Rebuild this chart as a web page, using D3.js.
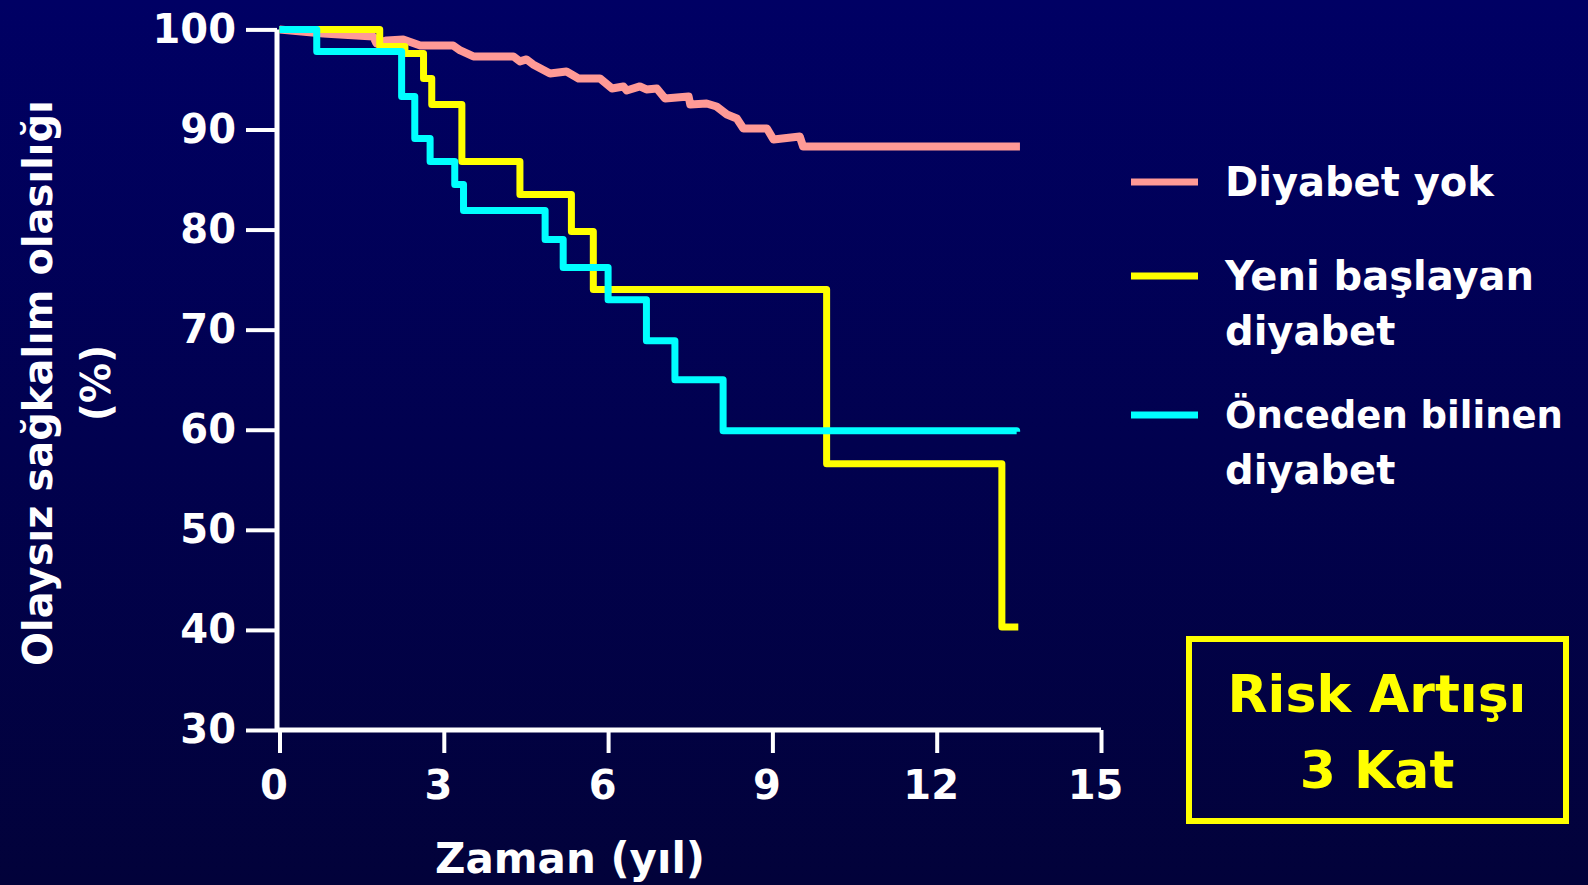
<!DOCTYPE html>
<html>
<head>
<meta charset="utf-8">
<script src="https://cdn.jsdelivr.net/npm/d3@7"></script>
<style>
  body { margin: 0; background: #000050; overflow: hidden; }
  text { font-family: "DejaVu Sans", sans-serif; font-weight: bold; }
</style>
</head>
<body>
<div id="chart"></div>
<script>
var svgWidth = 1588;
var svgHeight = 885;

// series values: [time (years), survival %]
var noDiabetes = [[0, 100], [0.8, 99.6], [1.71, 99.3], [1.77, 98.6], [1.96, 98.9], [2.26, 99.0], [2.57, 98.4],
  [3.17, 98.4], [3.30, 97.9], [3.54, 97.3], [4.27, 97.3], [4.39, 96.8], [4.51, 97.0], [4.63, 96.5],
  [4.94, 95.6], [5.24, 95.8], [5.46, 95.1], [5.85, 95.1], [6.07, 94.1], [6.28, 94.3], [6.34, 93.9],
  [6.58, 94.3], [6.70, 94.0], [6.89, 94.1], [7.04, 93.1], [7.47, 93.3], [7.50, 92.5], [7.80, 92.6],
  [7.98, 92.3], [8.17, 91.5], [8.35, 91.1], [8.47, 90.1], [8.90, 90.1], [9.02, 89.0], [9.50, 89.3],
  [9.56, 88.3], [13.52, 88.3]];
var newDiabetes = [[0, 100], [1.83, 98.3], [2.29, 97.6], [2.63, 95.1], [2.78, 92.5], [3.33, 86.8],
  [4.39, 83.5], [5.33, 79.8], [5.73, 74.0], [9.99, 56.6], [13.19, 40.3], [13.49, 40.3]];
var knownDiabetes = [[0, 100], [0.68, 97.8], [2.23, 93.3], [2.47, 89.1], [2.75, 86.8], [3.2, 84.5],
  [3.36, 81.9], [4.85, 79.0], [5.18, 76.2], [6.0, 73.0], [6.7, 68.9], [7.22, 65.0], [8.1, 59.9], [13.46, 59.8]];

var xTicks = [0, 3, 6, 9, 12, 15];
var yTicks = [30, 40, 50, 60, 70, 80, 90, 100];
var legendLabels = [["Diyabet yok"], ["Yeni başlayan", "diyabet"], ["Önceden bilinen", "diyabet"]];
var seriesColors = ["#ff9a96", "#ffff00", "#00ffff"];

var svg = d3.select("#chart")
  .append("svg")
  .attr("width", svgWidth)
  .attr("height", svgHeight);

// background gradient
var grad = svg.append("defs").append("linearGradient")
  .attr("id", "bg").attr("x1", 0).attr("y1", 0).attr("x2", 0).attr("y2", 1);
grad.append("stop").attr("offset", "0%").attr("stop-color", "#000064");
grad.append("stop").attr("offset", "100%").attr("stop-color", "#02023a");
svg.append("rect").attr("width", svgWidth).attr("height", svgHeight).attr("fill", "url(#bg)");

var xScale = d3.scaleLinear().domain([0, 15]).range([279.5, 1101]);
var yScale = d3.scaleLinear().domain([30, 100]).range([730, 29.4]);

// axes
var leftAxis = d3.axisLeft(yScale).tickValues(yTicks).tickSize(31).tickSizeOuter(0).tickPadding(10);
var bottomAxis = d3.axisBottom(xScale).tickValues(xTicks).tickSize(23).tickSizeOuter(0).tickPadding(18);

var gy = svg.append("g")
  .attr("transform", "translate(277,0)")
  .call(leftAxis);
var gx = svg.append("g")
  .attr("transform", "translate(0,730)")
  .call(bottomAxis);

[gx, gy].forEach(function(g) {
  g.select(".domain").attr("stroke", "#fff").attr("stroke-width", 5);
  g.selectAll(".tick line").attr("stroke", "#fff").attr("stroke-width", 4);
  g.selectAll(".tick text").attr("fill", "#fff").attr("font-size", 40).attr("font-family", "DejaVu Sans").attr("font-weight", "bold");
});
gx.select(".domain").attr("d", "M277,0H1101");
gy.select(".domain").attr("d", "M0,29.4V732");
gx.selectAll(".tick text").attr("dx", -6);

// survival curves
var stepLine = d3.line()
  .x(d => xScale(d[0]))
  .y(d => yScale(d[1]))
  .curve(d3.curveStepAfter);
var plainLine = d3.line()
  .x(d => xScale(d[0]))
  .y(d => yScale(d[1]));

svg.append("path").datum(noDiabetes)
  .attr("d", plainLine)
  .attr("fill", "none").attr("stroke", seriesColors[0]).attr("stroke-width", 8).attr("stroke-linejoin", "round");
svg.append("path").datum(newDiabetes)
  .attr("d", stepLine)
  .attr("fill", "none").attr("stroke", seriesColors[1]).attr("stroke-width", 7).attr("stroke-linejoin", "round");
svg.append("path").datum(knownDiabetes)
  .attr("d", stepLine)
  .attr("fill", "none").attr("stroke", seriesColors[2]).attr("stroke-width", 7).attr("stroke-linejoin", "round");

// axis titles
svg.append("text")
  .attr("x", 570).attr("y", 873)
  .attr("text-anchor", "middle")
  .attr("fill", "#fff").attr("font-size", 42)
  .text("Zaman (yıl)");

var yTitle = svg.append("text")
  .attr("transform", "translate(38,383) rotate(-90)")
  .attr("text-anchor", "middle")
  .attr("fill", "#fff").attr("font-size", 40);
yTitle.append("tspan").attr("x", 0).attr("dy", "0.35em").text("Olaysız sağkalım olasılığı");
yTitle.append("tspan").attr("x", 0).attr("dy", "1.45em").text("(%)");

// legend
var legendY = [182, 276, 415];
legendLabels.forEach(function(lines, i) {
  svg.append("line")
    .attr("x1", 1131).attr("x2", 1198)
    .attr("y1", legendY[i]).attr("y2", legendY[i])
    .attr("stroke", seriesColors[i]).attr("stroke-width", 7);
  lines.forEach(function(s, j) {
    svg.append("text")
      .attr("x", 1225).attr("y", legendY[i] + j * 55).attr("dy", "0.35em")
      .attr("fill", "#fff")
      .attr("font-size", s.length > 14 ? 37 : 40)
      .text(s);
  });
});

// risk box
svg.append("rect")
  .attr("x", 1189).attr("y", 639)
  .attr("width", 377).attr("height", 182)
  .attr("fill", "none").attr("stroke", "#ffff00").attr("stroke-width", 6);
svg.append("text")
  .attr("x", 1377).attr("y", 694).attr("dy", "0.35em")
  .attr("text-anchor", "middle")
  .attr("fill", "#ffff00").attr("font-size", 52)
  .text("Risk Artışı");
svg.append("text")
  .attr("x", 1377).attr("y", 770).attr("dy", "0.35em")
  .attr("text-anchor", "middle")
  .attr("fill", "#ffff00").attr("font-size", 52)
  .text("3 Kat");
</script>
</body>
</html>
